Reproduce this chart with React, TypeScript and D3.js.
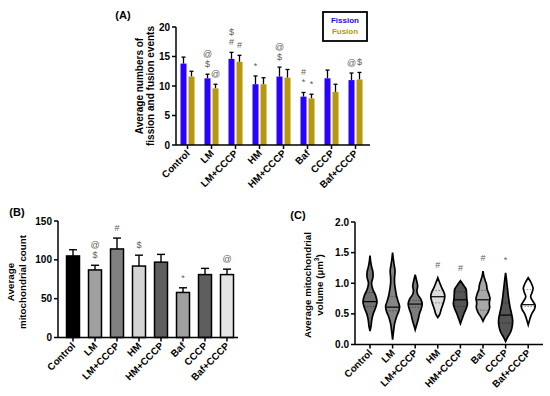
import React from "react";
import * as d3 from "d3";

const groups = ["Control", "LM", "LM+CCCP", "HM", "HM+CCCP", "Baf", "CCCP", "Baf+CCCP"];

// (A) fission / fusion events
const fissionMean = [13.8, 11.3, 14.6, 10.3, 11.6, 8.2, 11.3, 11.0];
const fissionErr = [1.1, 0.7, 1.1, 1.4, 1.6, 0.7, 1.4, 1.2];
const fusionMean = [11.6, 9.6, 14.1, 10.3, 11.4, 7.9, 9.0, 11.1];
const fusionErr = [0.9, 0.7, 1.1, 1.1, 1.4, 0.7, 1.3, 1.2];
const fissionMarks = ["", "$@", "#$", "*", "$@", "*#", "", "@"];
const fusionMarks = ["", "@", "#", "", "", "*", "", "$"];

// (B) mitochondrial count
const countMean = [105, 87, 114, 92, 97, 58, 81, 81];
const countErr = [8, 6, 14, 14, 10, 6, 8, 7];
const countMarks = ["", "$@", "#", "$", "", "*", "", "@"];
const countFill = ["#000000", "#a0a0a0", "#808080", "#d4d4d4", "#5e5e5e", "#a0a0a0", "#5e5e5e", "#e4e4e4"];

// (C) mitochondrial volume, violin outlines [value, relative density]
const vControl = [[0.22, 0], [0.3, 0.15], [0.4, 0.25], [0.5, 0.45], [0.6, 0.8], [0.7, 1], [0.8, 0.8], [0.9, 0.4], [1.0, 0.22], [1.1, 0.42], [1.18, 0.42], [1.26, 0.25], [1.35, 0.1], [1.45, 0]];
const vLM = [[0.08, 0], [0.2, 0.12], [0.35, 0.3], [0.45, 0.55], [0.55, 0.9], [0.62, 1], [0.7, 0.8], [0.8, 0.55], [0.9, 0.4], [1.0, 0.28], [1.1, 0.28], [1.2, 0.35], [1.3, 0.22], [1.4, 0.1], [1.5, 0]];
const vLMCCCP = [[0.24, 0], [0.32, 0.2], [0.42, 0.45], [0.5, 0.6], [0.58, 0.85], [0.66, 1], [0.74, 0.8], [0.82, 0.35], [0.88, 0.25], [0.95, 0.35], [1.02, 0.25], [1.14, 0]];
const vHM = [[0.44, 0], [0.5, 0.3], [0.58, 0.5], [0.66, 0.75], [0.74, 0.95], [0.8, 1], [0.86, 0.85], [0.93, 0.55], [1.0, 0.3], [1.09, 0]];
const vHMCCCP = [[0.34, 0], [0.42, 0.25], [0.5, 0.5], [0.58, 0.8], [0.66, 1], [0.74, 0.92], [0.82, 0.88], [0.9, 0.82], [0.96, 0.5], [1.04, 0]];
const vBaf = [[0.38, 0], [0.45, 0.3], [0.52, 0.7], [0.6, 0.95], [0.68, 0.9], [0.75, 1], [0.82, 0.85], [0.9, 0.6], [0.98, 0.5], [1.05, 0.3], [1.12, 0.12], [1.2, 0]];
const vCCCP = [[0.05, 0], [0.12, 0.3], [0.2, 0.7], [0.3, 0.95], [0.4, 1], [0.5, 0.85], [0.6, 0.65], [0.7, 0.5], [0.8, 0.38], [0.9, 0.28], [1.0, 0.18], [1.1, 0.08], [1.17, 0]];
const vBafCCCP = [[0.32, 0], [0.4, 0.2], [0.5, 0.5], [0.58, 0.9], [0.64, 1], [0.7, 0.7], [0.78, 0.35], [0.85, 0.55], [0.92, 0.7], [1.0, 0.45], [1.09, 0]];
const violins = [vControl, vLM, vLMCCCP, vHM, vHMCCCP, vBaf, vCCCP, vBafCCCP];
const volMedian = [0.7, 0.61, 0.66, 0.78, 0.73, 0.73, 0.48, 0.65];
const volQ1 = [0.62, 0.55, 0.61, 0.68, 0.62, 0.56, 0.35, 0.62];
const volQ3 = [0.85, 0.78, 0.72, 0.88, 0.86, 0.88, 0.68, 0.9];
const volFill = ["#727272", "#858585", "#7c7c7c", "#dcdcdc", "#555555", "#a8a8a8", "#555555", "#ffffff"];
const volMarks = ["", "", "", "#", "#", "#", "*", ""];

const font = "'Liberation Sans', Arial, sans-serif";
const blue = "#2a00ff";
const gold = "#b8980e";
const markColor = "#5e5e5e";

function densityAt(v: number[][], val: number) {
  for (let i = 1; i < v.length; i++) {
    if (val <= v[i][0]) {
      const t = (val - v[i - 1][0]) / (v[i][0] - v[i - 1][0]);
      return v[i - 1][1] + t * (v[i][1] - v[i - 1][1]);
    }
  }
  return 0;
}

function YAxis({ y, x, ticks, fmt }: any) {
  const [r0, r1] = y.range();
  return (
    <g>
      <line x1={x} x2={x} y1={r0} y2={r1} stroke="#000" strokeWidth={1.5} />
      {ticks.map((t: number) => (
        <g key={t}>
          <line x1={x - 4} x2={x} y1={y(t)} y2={y(t)} stroke="#000" strokeWidth={1.5} />
          <text x={x - 6} y={y(t)} dy="0.35em" textAnchor="end" fontSize={10} fontWeight="bold" fontFamily={font}>
            {fmt(t)}
          </text>
        </g>
      ))}
    </g>
  );
}

function XAxis({ x, y0, x0, x1 }: any) {
  return (
    <g>
      <line x1={x0} x2={x1} y1={y0} y2={y0} stroke="#000" strokeWidth={1.5} />
      {groups.map((g) => {
        const c = x(g) + x.bandwidth() / 2;
        return (
          <g key={g}>
            <line x1={c} x2={c} y1={y0} y2={y0 + 4} stroke="#000" strokeWidth={1.5} />
            <text transform={`translate(${c + 3},${y0 + 9}) rotate(-45)`} textAnchor="end" fontSize={9.8} fontWeight="bold" fontFamily={font}>
              {g}
            </text>
          </g>
        );
      })}
    </g>
  );
}

function Marks({ cx, top, marks }: any) {
  return (
    <g>
      {marks.split("").map((m: string, k: number) => (
        <text key={k} x={cx} y={top - 7 - k * 10} textAnchor="middle" fontSize={9} fontFamily={font} fill={markColor}>
          {m}
        </text>
      ))}
    </g>
  );
}

function PanelA() {
  const x = d3.scaleBand().domain(groups).range([175.5, 367.5]);
  const y = d3.scaleLinear().domain([0, 20]).range([145, 27]);
  const series = [
    { mean: fissionMean, err: fissionErr, marks: fissionMarks, color: blue, off: -7 },
    { mean: fusionMean, err: fusionErr, marks: fusionMarks, color: gold, off: 1 },
  ];
  return (
    <g>
      <text x={123} y={19} textAnchor="middle" fontSize={11} fontWeight="bold" fontFamily={font}>(A)</text>
      {series.map((s, si) =>
        groups.map((g, i) => {
          const c = x(g)! + x.bandwidth() / 2;
          const bx = c + s.off;
          const top = y(s.mean[i] + s.err[i]);
          return (
            <g key={`${si}-${g}`}>
              <line x1={bx + 3} x2={bx + 3} y1={y(s.mean[i])} y2={top} stroke="#000" strokeWidth={1.3} />
              <line x1={bx + 1} x2={bx + 5} y1={top} y2={top} stroke="#000" strokeWidth={1.3} />
              <rect x={bx} y={y(s.mean[i])} width={6} height={y(0) - y(s.mean[i])} fill={s.color} />
              <Marks cx={bx + 3} top={top} marks={s.marks[i]} />
            </g>
          );
        })
      )}
      <YAxis y={y} x={176} ticks={[0, 5, 10, 15, 20]} fmt={(t: number) => String(t)} />
      <XAxis x={x} y0={145} x0={176} x1={370} />
      <text transform="translate(143,86) rotate(-90)" textAnchor="middle" fontSize={10} fontWeight="bold" fontFamily={font}>
        <tspan x={0} dy={0}>Average numbers of</tspan>
        <tspan x={0} dy={11}>fission and fusion events</tspan>
      </text>
      <rect x={323} y={12} width={44} height={29} fill="#fff" stroke="#000" strokeWidth={1.8} />
      <text x={345} y={23} textAnchor="middle" fontSize={8} fontWeight="bold" fontFamily={font} fill={blue}>Fission</text>
      <text x={345} y={34} textAnchor="middle" fontSize={8} fontWeight="bold" fontFamily={font} fill={gold}>Fusion</text>
    </g>
  );
}

function PanelB() {
  const x = d3.scaleBand().domain(groups).range([62, 238]);
  const y = d3.scaleLinear().domain([0, 150]).range([337.5, 221]);
  return (
    <g>
      <text x={17} y={216} textAnchor="middle" fontSize={11} fontWeight="bold" fontFamily={font}>(B)</text>
      {groups.map((g, i) => {
        const c = x(g)! + x.bandwidth() / 2;
        const top = y(countMean[i] + countErr[i]);
        return (
          <g key={g}>
            <line x1={c} x2={c} y1={y(countMean[i])} y2={top} stroke="#000" strokeWidth={1.4} />
            <line x1={c - 4} x2={c + 4} y1={top} y2={top} stroke="#000" strokeWidth={1.4} />
            <rect x={c - 6.5} y={y(countMean[i])} width={13} height={y(0) - y(countMean[i])} fill={countFill[i]} stroke="#000" strokeWidth={1.5} />
            <Marks cx={c} top={top} marks={countMarks[i]} />
          </g>
        );
      })}
      <YAxis y={y} x={58} ticks={[0, 50, 100, 150]} fmt={(t: number) => String(t)} />
      <XAxis x={x} y0={337.5} x0={58} x1={238} />
      <text transform="translate(14,282) rotate(-90)" textAnchor="middle" fontSize={9.8} fontWeight="bold" fontFamily={font}>
        <tspan x={0} dy={0}>Average</tspan>
        <tspan x={0} dy={11.5}>mitochondrial count</tspan>
      </text>
    </g>
  );
}

function PanelC() {
  const x = d3.scaleBand().domain(groups).range([358.7, 539.5]);
  const y = d3.scaleLinear().domain([0, 2]).range([344.5, 222]);
  const w = d3.scaleLinear().domain([0, 1]).range([0, 7]);
  return (
    <g>
      <text x={298} y={219} textAnchor="middle" fontSize={11} fontWeight="bold" fontFamily={font}>(C)</text>
      {groups.map((g, i) => {
        const c = x(g)! + x.bandwidth() / 2;
        const v = violins[i];
        const area = d3
          .area<number[]>()
          .y((d) => y(d[0]))
          .x0((d) => c - w(d[1]))
          .x1((d) => c + w(d[1]))
          .curve(d3.curveCatmullRom);
        const hw = (val: number) => w(densityAt(v, val));
        const topVal = v[v.length - 1][0];
        return (
          <g key={g}>
            <path d={area(v)!} fill={volFill[i]} stroke="#000" strokeWidth={1.7} />
            <line x1={c - hw(volMedian[i])} x2={c + hw(volMedian[i])} y1={y(volMedian[i])} y2={y(volMedian[i])} stroke="#000" strokeWidth={1.2} />
            {[volQ1[i], volQ3[i]].map((q, k) => (
              <line key={k} x1={c - hw(q)} x2={c + hw(q)} y1={y(q)} y2={y(q)} stroke="#000" strokeWidth={0.7} strokeDasharray="1.5,1.5" opacity={0.6} />
            ))}
            <Marks cx={c} top={y(topVal) - 3} marks={volMarks[i]} />
          </g>
        );
      })}
      <YAxis y={y} x={355} ticks={[0, 0.5, 1, 1.5, 2]} fmt={d3.format(".1f")} />
      <XAxis x={x} y0={344.5} x0={355} x1={543} />
      <text transform="translate(311,285) rotate(-90)" textAnchor="middle" fontSize={9.8} fontWeight="bold" fontFamily={font}>
        <tspan x={0} dy={0}>Average mitochondrial</tspan>
        <tspan x={0} dy={11.5}>volume (µm</tspan>
        <tspan fontSize={6.5} dy={-4}>3</tspan>
        <tspan dy={4}>)</tspan>
      </text>
    </g>
  );
}

export default function App() {
  return (
    <svg width={550} height={396} style={{ position: "absolute", left: 0, top: 0, background: "#fff" }}>
      <rect width={550} height={396} fill="#fff" />
      <PanelA />
      <PanelB />
      <PanelC />
    </svg>
  );
}
